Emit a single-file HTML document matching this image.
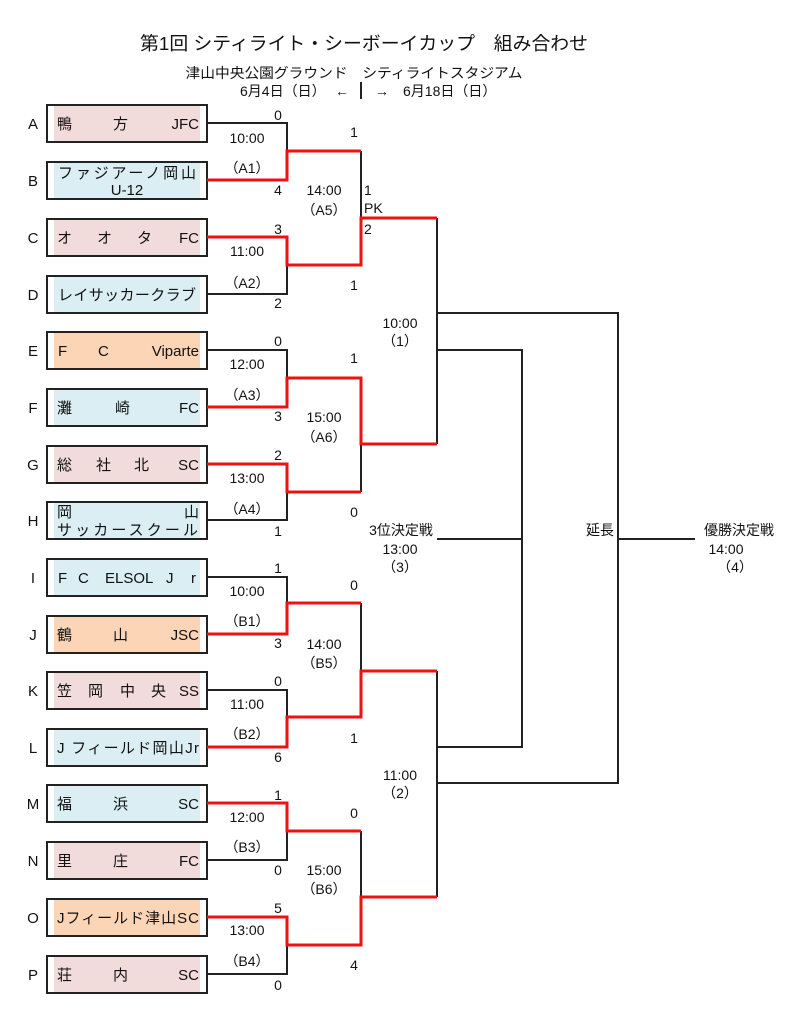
<!DOCTYPE html>
<html><head><meta charset="utf-8"><style>
html,body{margin:0;padding:0;background:#fff;}
svg{display:block;}
text{font-family:"Liberation Sans","Noto Sans CJK JP",sans-serif;fill:#111;}
</style></head><body>
<svg width="808" height="1024" viewBox="0 0 808 1024" xmlns="http://www.w3.org/2000/svg">
<g text-anchor="middle">
<text x="364" y="50" font-size="18.5" textLength="448" lengthAdjust="spacingAndGlyphs">第1回 シティライト・シーボーイカップ　組み合わせ</text>
<text x="354" y="78" font-size="14" textLength="337" lengthAdjust="spacingAndGlyphs">津山中央公園グラウンド　シティライトスタジアム</text>
</g>
<text x="240" y="96" font-size="14">6月4日（日）</text>
<text x="335" y="96" font-size="14">←</text>
<line x1="361" y1="82" x2="361" y2="99" stroke="#222" stroke-width="2"/>
<text x="375" y="96" font-size="14">→</text>
<text x="403" y="96" font-size="14">6月18日（日）</text>
<!-- boxes -->
<g stroke="#222" stroke-width="2">
<rect x="47" y="105" width="160" height="37" fill="#fff"/>
<rect x="47" y="162" width="160" height="37" fill="#fff"/>
<rect x="47" y="219" width="160" height="37" fill="#fff"/>
<rect x="47" y="276" width="160" height="37" fill="#fff"/>
<rect x="47" y="332" width="160" height="37" fill="#fff"/>
<rect x="47" y="389" width="160" height="37" fill="#fff"/>
<rect x="47" y="446" width="160" height="37" fill="#fff"/>
<rect x="47" y="502" width="160" height="37" fill="#fff"/>
<rect x="47" y="559" width="160" height="37" fill="#fff"/>
<rect x="47" y="616" width="160" height="37" fill="#fff"/>
<rect x="47" y="672" width="160" height="37" fill="#fff"/>
<rect x="47" y="729" width="160" height="37" fill="#fff"/>
<rect x="47" y="785" width="160" height="37" fill="#fff"/>
<rect x="47" y="842" width="160" height="37" fill="#fff"/>
<rect x="47" y="899" width="160" height="37" fill="#fff"/>
<rect x="47" y="956" width="160" height="37" fill="#fff"/>
</g>
<g>
<rect x="54" y="106" width="146" height="35" fill="#f2dcdb"/>
<rect x="54" y="163" width="146" height="35" fill="#daeef3"/>
<rect x="54" y="220" width="146" height="35" fill="#f2dcdb"/>
<rect x="54" y="277" width="146" height="35" fill="#daeef3"/>
<rect x="54" y="333" width="146" height="35" fill="#fbd5b5"/>
<rect x="54" y="390" width="146" height="35" fill="#daeef3"/>
<rect x="54" y="447" width="146" height="35" fill="#f2dcdb"/>
<rect x="54" y="503" width="146" height="35" fill="#daeef3"/>
<rect x="54" y="560" width="146" height="35" fill="#daeef3"/>
<rect x="54" y="617" width="146" height="35" fill="#fbd5b5"/>
<rect x="54" y="673" width="146" height="35" fill="#f2dcdb"/>
<rect x="54" y="730" width="146" height="35" fill="#daeef3"/>
<rect x="54" y="786" width="146" height="35" fill="#daeef3"/>
<rect x="54" y="843" width="146" height="35" fill="#f2dcdb"/>
<rect x="54" y="900" width="146" height="35" fill="#fbd5b5"/>
<rect x="54" y="957" width="146" height="35" fill="#f2dcdb"/>
</g>
<!-- letters -->
<g font-size="15" text-anchor="middle">
<text x="33" y="129">A</text><text x="33" y="186">B</text><text x="33" y="243">C</text><text x="33" y="300">D</text>
<text x="33" y="356">E</text><text x="33" y="413">F</text><text x="33" y="470">G</text><text x="33" y="526">H</text>
<text x="33" y="583">I</text><text x="33" y="640">J</text><text x="33" y="696">K</text><text x="33" y="753">L</text>
<text x="33" y="809">M</text><text x="33" y="866">N</text><text x="33" y="923">O</text><text x="33" y="980">P</text>
</g>
<!-- names -->
<g font-size="15">
<text x="57" y="129">鴨</text><text x="113" y="129">方</text><text x="199" y="129" text-anchor="end">JFC</text>
<text x="127" y="178" text-anchor="middle" textLength="138" lengthAdjust="spacing">ファジアーノ岡山</text>
<text x="127" y="195" text-anchor="middle">U-12</text>
<text x="57" y="243">オ</text><text x="97" y="243">オ</text><text x="137" y="243">タ</text><text x="199" y="243" text-anchor="end">FC</text>
<text x="127" y="300" text-anchor="middle" textLength="138" lengthAdjust="spacing">レイサッカークラブ</text>
<text x="58" y="356">F</text><text x="98" y="356">C</text><text x="199" y="356" text-anchor="end">Viparte</text>
<text x="57" y="413">灘</text><text x="115" y="413">崎</text><text x="199" y="413" text-anchor="end">FC</text>
<text x="57" y="470">総</text><text x="96" y="470">社</text><text x="134" y="470">北</text><text x="199" y="470" text-anchor="end">SC</text>
<text x="57" y="517">岡</text><text x="199" y="517" text-anchor="end">山</text>
<text x="57" y="535" textLength="141" lengthAdjust="spacing">サッカースクール</text>
<text x="58" y="583">F</text><text x="78" y="583">C</text><text x="105" y="583">ELSOL</text><text x="166" y="583">J</text><text x="191" y="583">r</text>
<text x="57" y="640">鶴</text><text x="113" y="640">山</text><text x="199" y="640" text-anchor="end">JSC</text>
<text x="57" y="696">笠</text><text x="88" y="696">岡</text><text x="120" y="696">中</text><text x="151" y="696">央</text><text x="199" y="696" text-anchor="end">SS</text>
<text x="57" y="753" textLength="142" lengthAdjust="spacing">J フィールド岡山Jr</text>
<text x="57" y="809">福</text><text x="113" y="809">浜</text><text x="199" y="809" text-anchor="end">SC</text>
<text x="57" y="866">里</text><text x="113" y="866">庄</text><text x="199" y="866" text-anchor="end">FC</text>
<text x="57" y="923" textLength="142" lengthAdjust="spacing">Jフィールド津山SC</text>
<text x="57" y="980">荘</text><text x="113" y="980">内</text><text x="199" y="980" text-anchor="end">SC</text>
</g>
<!-- black lines -->
<g stroke="#222" stroke-width="2" fill="none">
<polyline points="207,123 287,123 287,151"/>
<polyline points="207,294 287,294 287,265"/>
<polyline points="207,350 287,350 287,378"/>
<polyline points="207,520 287,520 287,492"/>
<polyline points="207,577 287,577 287,603"/>
<polyline points="207,690 287,690 287,717"/>
<polyline points="207,860 287,860 287,831"/>
<polyline points="207,974 287,974 287,945"/>
<line x1="361" y1="151" x2="361" y2="218"/>
<line x1="361" y1="444" x2="361" y2="492"/>
<line x1="361" y1="603" x2="361" y2="671"/>
<line x1="361" y1="831" x2="361" y2="897"/>
<line x1="437" y1="218" x2="437" y2="444"/>
<line x1="437" y1="671" x2="437" y2="897"/>
<polyline points="437,313 618,313 618,783 437,783"/>
<polyline points="437,350 522,350 522,747 437,747"/>
<line x1="437" y1="539" x2="522" y2="539"/>
<line x1="618" y1="539" x2="695" y2="539"/>
</g>
<!-- red lines -->
<g stroke="#ee1111" stroke-width="3" fill="none">
<polyline points="207,180 287,180 287,151 361,151"/>
<polyline points="207,237 287,237 287,265 361,265 361,218 437,218"/>
<polyline points="207,407 287,407 287,378 361,378 361,444 437,444"/>
<polyline points="207,464 287,464 287,492 361,492"/>
<polyline points="207,634 287,634 287,603 361,603"/>
<polyline points="207,747 287,747 287,717 361,717 361,671 437,671"/>
<polyline points="207,803 287,803 287,831 361,831"/>
<polyline points="207,917 287,917 287,945 361,945 361,897 437,897"/>
</g>
<!-- labels -->
<g font-size="14" text-anchor="middle">
<text x="278" y="120">0</text><text x="247" y="143">10:00</text><text x="247" y="173">（A1）</text><text x="278" y="195">4</text>
<text x="354" y="137">1</text><text x="324" y="195">14:00</text><text x="324" y="215">（A5）</text>
<text x="278" y="234">3</text><text x="247" y="256">11:00</text><text x="247" y="288">（A2）</text><text x="278" y="308">2</text>
<text x="354" y="290">1</text>
<text x="400" y="328">10:00</text><text x="400" y="346">（1）</text>
<text x="278" y="346">0</text><text x="247" y="369">12:00</text><text x="247" y="400">（A3）</text><text x="278" y="421">3</text>
<text x="354" y="363">1</text><text x="324" y="422">15:00</text><text x="324" y="442">（A6）</text>
<text x="278" y="460">2</text><text x="247" y="483">13:00</text><text x="247" y="514">（A4）</text><text x="278" y="536">1</text>
<text x="354" y="517">0</text>
<text x="401" y="535">3位決定戦</text><text x="400" y="554">13:00</text><text x="400" y="572">（3）</text>
<text x="600" y="535">延長</text>
<text x="739" y="535">優勝決定戦</text><text x="726" y="554">14:00</text><text x="735" y="572">（4）</text>
<text x="278" y="573">1</text><text x="247" y="596">10:00</text><text x="247" y="626">（B1）</text><text x="278" y="648">3</text>
<text x="354" y="590">0</text><text x="324" y="649">14:00</text><text x="324" y="668">（B5）</text>
<text x="278" y="686">0</text><text x="247" y="709">11:00</text><text x="247" y="739">（B2）</text><text x="278" y="762">6</text>
<text x="354" y="743">1</text>
<text x="400" y="780">11:00</text><text x="400" y="798">（2）</text>
<text x="278" y="800">1</text><text x="247" y="822">12:00</text><text x="247" y="852">（B3）</text><text x="278" y="875">0</text>
<text x="354" y="818">0</text><text x="324" y="875">15:00</text><text x="324" y="894">（B6）</text>
<text x="278" y="913">5</text><text x="247" y="935">13:00</text><text x="247" y="966">（B4）</text><text x="278" y="990">0</text>
<text x="354" y="970">4</text>
</g>
<g font-size="14">
<text x="364" y="195">1</text><text x="364" y="213">PK</text><text x="364" y="234">2</text>
</g>
</svg>
</body></html>
